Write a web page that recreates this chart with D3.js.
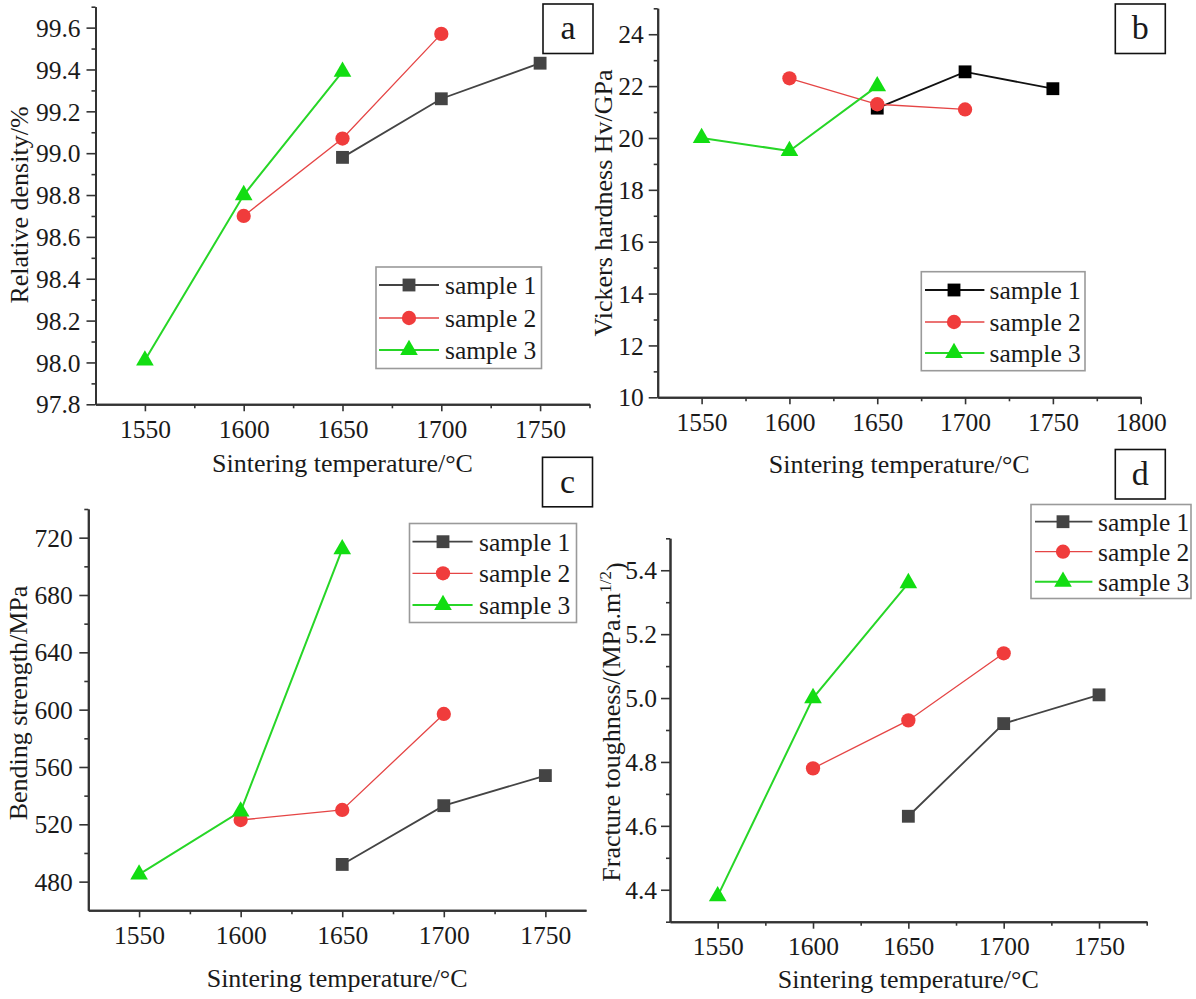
<!DOCTYPE html>
<html>
<head>
<meta charset="utf-8">
<script src="https://cdn.jsdelivr.net/npm/d3@7/dist/d3.min.js"></script>
<style>
  html, body { margin: 0; padding: 0; background: #fff; }
  svg { display: block; }
  text { font-family: "Liberation Serif", "Times New Roman", serif; fill: #1a1a1a; }
</style>
</head>
<body>
<svg id="chart" width="1196" height="999"></svg>
<script>
// ---------------- data ----------------
const seriesNames = ["sample 1", "sample 2", "sample 3"];
const sample1Temps = [1650, 1700, 1750];
const sample2Temps = [1600, 1650, 1700];
const sample3Temps = [1550, 1600, 1650];

const densityS1 = [98.98, 99.26, 99.43];
const densityS2 = [98.70, 99.07, 99.57];
const densityS3 = [98.01, 98.80, 99.39];

const hardnessS1 = [21.15, 22.55, 21.9];
const hardnessS2 = [22.3, 21.3, 21.1];
const hardnessS3 = [20.0, 19.5, 22.0];

const strengthS1 = [492, 533, 554];
const strengthS2 = [523, 530, 597];
const strengthS3 = [485, 529, 712];

const toughnessS1 = [4.63, 4.92, 5.01];
const toughnessS2 = [4.78, 4.93, 5.14];
const toughnessS3 = [4.38, 5.00, 5.36];

const xTicksACD = [1550, 1600, 1650, 1700, 1750];
const xTicksB = [1550, 1600, 1650, 1700, 1750, 1800];
const xMinorA = [1575, 1625, 1675, 1725, 1775];
const xMinorB = [1575, 1625, 1675, 1725, 1775];
const xMinorC = [1575, 1625, 1675, 1725];
const xMinorD = [1575, 1625, 1675, 1725, 1775];

const yTicksA = [97.8, 98.0, 98.2, 98.4, 98.6, 98.8, 99.0, 99.2, 99.4, 99.6];
const yMinorA = [97.9, 98.1, 98.3, 98.5, 98.7, 98.9, 99.1, 99.3, 99.5, 99.7];
const yTicksB = [10, 12, 14, 16, 18, 20, 22, 24];
const yMinorB = [11, 13, 15, 17, 19, 21, 23, 25];
const yTicksC = [480, 520, 560, 600, 640, 680, 720];
const yMinorC = [500, 540, 580, 620, 660, 700, 740];
const yTicksD = [4.4, 4.6, 4.8, 5.0, 5.2, 5.4];
const yMinorD = [4.3, 4.5, 4.7, 4.9, 5.1, 5.3, 5.5];

// ---------------- drawing ----------------
const svg = d3.select("#chart");
const FS = 25.5;

function panel(cfg) {
  const g = svg.append("g");
  const x = d3.scaleLinear().domain(cfg.xDomain).range(cfg.xRange);
  const y = d3.scaleLinear().domain(cfg.yDomain).range(cfg.yRange);
  const axisColor = "#333";

  // minor ticks
  const xm = g.append("g").attr("transform", `translate(0,${cfg.yRange[0]})`)
    .call(d3.axisBottom(x).tickValues(cfg.xMinor).tickSize(4).tickSizeOuter(0).tickFormat(""));
  const ym = g.append("g").attr("transform", `translate(${cfg.xRange[0]},0)`)
    .call(d3.axisLeft(y).tickValues(cfg.yMinor).tickSize(4).tickSizeOuter(0).tickFormat(""));

  const xa = g.append("g").attr("transform", `translate(0,${cfg.yRange[0]})`)
    .call(d3.axisBottom(x).tickValues(cfg.xTicks).tickSize(7).tickSizeOuter(0).tickFormat(d3.format("d")));
  xa.selectAll("text").attr("y", 33.5).attr("dy", null)
    .style("font-size", FS + "px").style("font-family", "Liberation Serif").attr("fill", "#1a1a1a");

  const ya = g.append("g").attr("transform", `translate(${cfg.xRange[0]},0)`)
    .call(d3.axisLeft(y).tickValues(cfg.yTicks).tickSize(9).tickSizeOuter(0).tickFormat(cfg.yFormat));
  ya.selectAll("text").attr("x", -(cfg.yLabelGap)).attr("dy", "0.34em")
    .style("font-size", FS + "px").style("font-family", "Liberation Serif").attr("fill", "#1a1a1a");

  [xm, ym, xa, ya].forEach(a => {
    a.selectAll("path.domain").attr("stroke", axisColor).attr("stroke-width", 2);
    a.selectAll("line").attr("stroke", axisColor).attr("stroke-width", 1.6);
  });

  // axis titles
  g.append("text")
    .attr("x", (cfg.xRange[0] + cfg.xRange[1]) / 2)
    .attr("y", cfg.xTitleY)
    .attr("text-anchor", "middle")
    .style("font-size", "26px")
    .text("Sintering temperature/°C");

  const yt = g.append("text")
    .attr("transform", `translate(${cfg.yTitleX},${cfg.yTitleY}) rotate(-90)`)
    .attr("text-anchor", "middle")
    .style("font-size", "26px");
  if (cfg.yTitleSup) {
    yt.append("tspan").text(cfg.yTitle);
    yt.append("tspan").attr("dy", "-0.5em").style("font-size", "17px").text(cfg.yTitleSup);
    yt.append("tspan").attr("dy", "0.5em").text(")");
  } else {
    yt.text(cfg.yTitle);
  }

  // series
  const symbols = [d3.symbolSquare, d3.symbolCircle, d3.symbolTriangle];
  const sizes = [165, 160, 135];
  cfg.series.forEach((s, i) => {
    const pts = d3.zip(s.temps, s.values);
    g.append("path")
      .datum(pts)
      .attr("fill", "none")
      .attr("stroke", s.line)
      .attr("stroke-width", s.width)
      .attr("d", d3.line().x(d => x(d[0])).y(d => y(d[1])));
    g.selectAll(null)
      .data(pts)
      .enter()
      .append("path")
      .attr("transform", d => `translate(${x(d[0])},${y(d[1])})`)
      .attr("d", d3.symbol().type(symbols[i]).size(sizes[i]))
      .attr("fill", s.fill);
  });

  // legend
  const L = cfg.legend;
  const lg = g.append("g");
  lg.append("rect")
    .attr("x", L.x).attr("y", L.y).attr("width", L.w).attr("height", L.h)
    .attr("fill", "#fff").attr("stroke", "#9a9a9a").attr("stroke-width", 1.6);
  cfg.series.forEach((s, i) => {
    const yy = L.rows[i];
    lg.append("line")
      .attr("x1", L.lineX[0]).attr("x2", L.lineX[1]).attr("y1", yy).attr("y2", yy)
      .attr("stroke", s.line).attr("stroke-width", s.width);
    lg.append("path")
      .attr("transform", `translate(${L.markX},${yy})`)
      .attr("d", d3.symbol().type(symbols[i]).size(sizes[i]))
      .attr("fill", s.fill);
    lg.append("text")
      .attr("x", L.textX).attr("y", yy).attr("dy", "0.35em")
      .style("font-size", FS + "px")
      .text(seriesNames[i]);
  });

  // panel letter box
  const B = cfg.box;
  g.append("rect")
    .attr("x", B.x).attr("y", B.y).attr("width", 50).attr("height", 49.5)
    .attr("fill", "#fff").attr("stroke", "#111").attr("stroke-width", 1.6);
  g.append("text")
    .attr("x", B.x + 25).attr("y", B.y + 25).attr("dy", "0.3em")
    .attr("text-anchor", "middle")
    .style("font-size", "34px")
    .text(B.letter);
}

const gray = "#444444", red = "#e54545", redFill = "#f03c3c", green = "#27d627", greenFill = "#12dd12";

function std(v1, v2, v3, black) {
  return [
    { temps: sample1Temps, values: v1, line: black ? "#111" : gray, fill: black ? "#000" : gray, width: 1.8 },
    { temps: sample2Temps, values: v2, line: red, fill: redFill, width: 1.3 },
    { temps: sample3Temps, values: v3, line: green, fill: greenFill, width: 2 }
  ];
}

// Panel a
panel({
  xDomain: [1525, 1775], xRange: [95.5, 589.5],
  yDomain: [97.8, 99.7], yRange: [404.3, 6.7],
  xTicks: xTicksACD, xMinor: xMinorA, yTicks: yTicksA, yMinor: yMinorA,
  yFormat: d3.format(".1f"), yLabelGap: 15,
  xTitleY: 472, yTitleX: 28, yTitleY: 205, yTitle: "Relative density/%",
  series: std(densityS1, densityS2, densityS3, false),
  legend: { x: 376, y: 267, w: 165.5, h: 101.5, rows: [285, 318, 350], lineX: [379, 439], markX: 409, textX: 445 },
  box: { x: 543, y: 4, letter: "a" }
});

// Panel b
panel({
  xDomain: [1525, 1800], xRange: [657.7, 1140.7],
  yDomain: [10, 25], yRange: [397.3, 8.3],
  xTicks: xTicksB, xMinor: xMinorB, yTicks: yTicksB, yMinor: yMinorB,
  yFormat: d3.format("d"), yLabelGap: 14,
  xTitleY: 473, yTitleX: 612, yTitleY: 203, yTitle: "Vickers hardness Hv/GPa",
  series: std(hardnessS1, hardnessS2, hardnessS3, true),
  legend: { x: 921.3, y: 271.7, w: 163.7, h: 99, rows: [290, 322, 353], lineX: [925, 984.4], markX: 954, textX: 989.5 },
  box: { x: 1115.3, y: 4, letter: "b" }
});

// Panel c
panel({
  xDomain: [1525, 1770], xRange: [88.3, 586],
  yDomain: [460, 740], yRange: [910.3, 509],
  xTicks: xTicksACD, xMinor: xMinorC, yTicks: yTicksC, yMinor: yMinorC,
  yFormat: d3.format("d"), yLabelGap: 15.5,
  xTitleY: 986.7, yTitleX: 27, yTitleY: 703, yTitle: "Bending strength/MPa",
  series: std(strengthS1, strengthS2, strengthS3, false),
  legend: { x: 409.5, y: 523.5, w: 167, h: 99, rows: [541.7, 573.3, 605], lineX: [412.5, 472.6], markX: 443, textX: 479 },
  box: { x: 542.5, y: 457.3, letter: "c" }
});

// Panel d
panel({
  xDomain: [1525, 1775], xRange: [670, 1146.7],
  yDomain: [4.3, 5.5], yRange: [921.7, 538.3],
  xTicks: xTicksACD, xMinor: xMinorD, yTicks: yTicksD, yMinor: yMinorD,
  yFormat: d3.format(".1f"), yLabelGap: 13,
  xTitleY: 987.7, yTitleX: 619.5, yTitleY: 722, yTitle: "Fracture toughness/(MPa.m", yTitleSup: "1/2",
  series: std(toughnessS1, toughnessS2, toughnessS3, false),
  legend: { x: 1031, y: 504.5, w: 160, h: 94, rows: [521.7, 551.7, 581.7], lineX: [1035, 1092.4], markX: 1063, textX: 1098 },
  box: { x: 1115.3, y: 449.5, letter: "d" }
});
</script>
</body>
</html>
